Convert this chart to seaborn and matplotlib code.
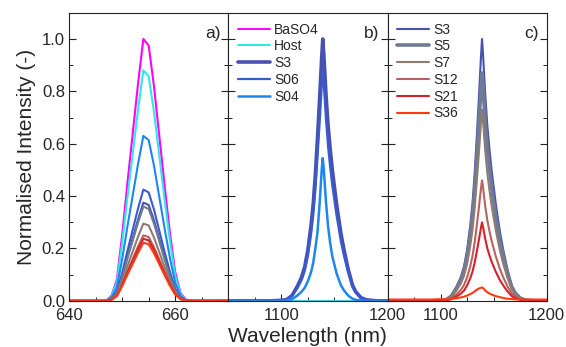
import numpy as np
import pandas as pd
import seaborn as sns
import matplotlib.pyplot as plt
from matplotlib.ticker import MultipleLocator

plt.switch_backend("Agg")

# ---- panel a: visible region (nm) ----
wl_vis = [640, 646, 647, 648, 649, 650, 651, 652, 653, 654, 655, 656, 657, 658, 659, 660, 661, 662, 663, 670]
vis_baso4 = [0, 0, 0, 0.02, 0.08, 0.25, 0.45, 0.64, 0.83, 1.0, 0.975, 0.82, 0.63, 0.44, 0.26, 0.11, 0.03, 0.005, 0, 0]
vis_host = [0, 0, 0, 0.018, 0.07, 0.22, 0.396, 0.563, 0.73, 0.88, 0.858, 0.722, 0.554, 0.387, 0.229, 0.097, 0.026, 0.004, 0, 0]
vis_s04 = [0, 0, 0, 0.013, 0.05, 0.158, 0.284, 0.403, 0.523, 0.63, 0.614, 0.517, 0.397, 0.277, 0.164, 0.069, 0.019, 0.003, 0, 0]
vis_s06 = [0, 0, 0, 0.009, 0.034, 0.106, 0.191, 0.272, 0.353, 0.425, 0.414, 0.349, 0.268, 0.187, 0.111, 0.047, 0.013, 0.002, 0, 0]
vis_s3 = [0, 0, 0, 0.008, 0.03, 0.094, 0.169, 0.24, 0.311, 0.375, 0.366, 0.308, 0.236, 0.165, 0.098, 0.041, 0.011, 0.002, 0, 0]
vis_s5 = [0, 0, 0, 0.007, 0.029, 0.09, 0.162, 0.23, 0.299, 0.36, 0.351, 0.295, 0.227, 0.158, 0.094, 0.04, 0.011, 0.002, 0, 0]
vis_s7 = [0, 0, 0, 0.006, 0.024, 0.074, 0.133, 0.189, 0.245, 0.295, 0.288, 0.242, 0.186, 0.13, 0.077, 0.032, 0.009, 0.001, 0, 0]
vis_s12 = [0, 0, 0, 0.005, 0.02, 0.063, 0.113, 0.16, 0.208, 0.25, 0.244, 0.205, 0.158, 0.11, 0.065, 0.028, 0.008, 0.001, 0, 0]
vis_s21 = [0, 0, 0, 0.005, 0.019, 0.059, 0.107, 0.152, 0.197, 0.237, 0.231, 0.194, 0.149, 0.104, 0.062, 0.026, 0.007, 0.001, 0, 0]
vis_s36 = [0, 0, 0, 0.004, 0.018, 0.056, 0.1, 0.142, 0.184, 0.222, 0.216, 0.182, 0.14, 0.098, 0.058, 0.024, 0.007, 0.001, 0, 0]

# ---- panels b, c: NIR region (nm) ----
wl_nir = [1050, 1090, 1100, 1105, 1110, 1115, 1119, 1122, 1125, 1128, 1130, 1132, 1134, 1136, 1138, 1139,
          1140, 1142, 1144, 1146, 1148, 1152, 1156, 1159, 1163, 1167, 1170, 1175, 1180, 1190, 1200]
nir_zero = [0] * 31
nir_s3 = [0, 0, 0.002, 0.005, 0.02, 0.055, 0.09, 0.13, 0.195, 0.29, 0.37, 0.48, 0.62, 0.77, 0.93, 1.0,
          0.94, 0.79, 0.67, 0.58, 0.50, 0.37, 0.26, 0.195, 0.12, 0.06, 0.035, 0.012, 0.004, 0, 0]
nir_s06 = [0, 0, 0.002, 0.004, 0.018, 0.048, 0.079, 0.114, 0.172, 0.255, 0.326, 0.422, 0.546, 0.678, 0.818, 0.88,
           0.827, 0.695, 0.59, 0.51, 0.44, 0.326, 0.229, 0.172, 0.106, 0.053, 0.031, 0.011, 0.004, 0, 0]
nir_s04 = [0, 0, 0, 0.002, 0.006, 0.02, 0.035, 0.05, 0.075, 0.11, 0.145, 0.2, 0.26, 0.37, 0.5, 0.545,
           0.5, 0.38, 0.285, 0.22, 0.17, 0.105, 0.06, 0.04, 0.02, 0.008, 0.004, 0.001, 0, 0, 0]
nir_s5 = [0, 0, 0.002, 0.004, 0.017, 0.048, 0.078, 0.113, 0.17, 0.252, 0.322, 0.418, 0.539, 0.67, 0.809, 0.87,
          0.818, 0.687, 0.583, 0.505, 0.435, 0.322, 0.226, 0.17, 0.104, 0.052, 0.03, 0.01, 0.003, 0, 0]
nir_s7 = [0, 0, 0.001, 0.004, 0.015, 0.04, 0.066, 0.095, 0.142, 0.212, 0.27, 0.35, 0.453, 0.562, 0.679, 0.73,
          0.686, 0.577, 0.489, 0.423, 0.365, 0.27, 0.19, 0.142, 0.088, 0.044, 0.026, 0.009, 0.003, 0, 0]
nir_s12 = [0, 0, 0.001, 0.002, 0.009, 0.025, 0.041, 0.06, 0.09, 0.133, 0.17, 0.221, 0.285, 0.354, 0.428, 0.46,
           0.432, 0.363, 0.308, 0.267, 0.23, 0.17, 0.12, 0.09, 0.055, 0.028, 0.016, 0.006, 0.002, 0, 0]
nir_s21 = [0, 0, 0.001, 0.002, 0.006, 0.017, 0.027, 0.039, 0.059, 0.087, 0.111, 0.144, 0.186, 0.231, 0.279, 0.30,
           0.282, 0.237, 0.201, 0.174, 0.15, 0.111, 0.078, 0.059, 0.036, 0.018, 0.011, 0.004, 0.001, 0, 0]
nir_s36 = [0.005, 0.005, 0.006, 0.006, 0.008, 0.01, 0.013, 0.016, 0.02, 0.026, 0.03, 0.036, 0.042, 0.047, 0.05, 0.051,
           0.049, 0.04, 0.033, 0.028, 0.024, 0.018, 0.014, 0.011, 0.008, 0.007, 0.006, 0.005, 0.005, 0.005, 0.005]

colors = {
    "BaSO4": "#FF00FF", "Host": "#30E6E6", "S3": "#4850B0", "S06": "#3A5AD0", "S04": "#1E86F0",
    "S5": "#6D7B95", "S7": "#8E7B72", "S12": "#B8625E", "S21": "#D8202C", "S36": "#FF3A10",
}

sns.set_style("ticks")
plt.rcParams["font.family"] = ["Liberation Sans", "DejaVu Sans"]

fig, axes = plt.subplots(1, 3, figsize=(5.66, 3.47), dpi=100, sharey=True,
                         gridspec_kw={"wspace": 0})
fig.subplots_adjust(left=0.122, right=0.966, bottom=0.133, top=0.963)
ax_a, ax_b, ax_c = axes

vis = [("BaSO4", vis_baso4), ("Host", vis_host), ("S04", vis_s04), ("S06", vis_s06), ("S3", vis_s3),
       ("S5", vis_s5), ("S7", vis_s7), ("S12", vis_s12), ("S21", vis_s21), ("S36", vis_s36)]
for name, vals in vis:
    sns.lineplot(x=wl_vis, y=vals, ax=ax_a, color=colors[name], lw=1.5)

widths_b = {"BaSO4": 1.4, "Host": 1.4, "S3": 2.6, "S06": 1.6, "S04": 1.8}
for name, vals in [("BaSO4", nir_zero), ("Host", nir_zero), ("S3", nir_s3), ("S06", nir_s06), ("S04", nir_s04)]:
    sns.lineplot(x=wl_nir, y=vals, ax=ax_b, color=colors[name], lw=widths_b[name], label=name)

widths_c = {"S3": 1.5, "S5": 2.6, "S7": 1.5, "S12": 1.5, "S21": 1.5, "S36": 1.5}
for name, vals in [("S3", nir_s3), ("S5", nir_s5), ("S7", nir_s7), ("S12", nir_s12), ("S21", nir_s21), ("S36", nir_s36)]:
    sns.lineplot(x=wl_nir, y=vals, ax=ax_c, color=colors[name], lw=widths_c[name], label=name)

ax_a.set_xlim(640, 670)
ax_a.xaxis.set_major_locator(MultipleLocator(20))
ax_a.xaxis.set_minor_locator(MultipleLocator(5))
for ax in (ax_b, ax_c):
    ax.set_xlim(1050, 1200)
    ax.set_xticks([1100, 1200])
    ax.xaxis.set_minor_locator(MultipleLocator(25))

ax_a.set_ylim(0, 1.1)
ax_a.yaxis.set_major_locator(MultipleLocator(0.2))
ax_a.yaxis.set_minor_locator(MultipleLocator(0.1))
ax_a.yaxis.set_major_formatter(plt.FormatStrFormatter("%.1f"))

for ax, tag in zip(axes, ["a)", "b)", "c)"]):
    ax.tick_params(which="both", direction="in", left=True, right=True, top=False,
                   labelsize=12, color="#222222")
    ax.tick_params(axis="x", pad=5)
    ax.tick_params(axis="y", pad=3)
    ax.tick_params(which="major", length=5, width=0.8)
    ax.tick_params(which="minor", length=3, width=0.7)
    for sp in ax.spines.values():
        sp.set_color("#222222")
        sp.set_linewidth(0.8)
    ax.set_xlabel("")
    ax.text(0.95, 0.955, tag, transform=ax.transAxes, ha="right", va="top", fontsize=12.5)

for ax in (ax_b, ax_c):
    ax.legend(loc="upper left", frameon=False, fontsize=10, handlelength=2.3,
              labelspacing=0.2, handletextpad=0.3, borderaxespad=0.3)

ax_a.set_ylabel("Normalised Intensity (-)", fontsize=15, labelpad=4)
fig.text(0.544, 0.03, "Wavelength (nm)", ha="center", va="center", fontsize=15)

plt.savefig("out.png")
